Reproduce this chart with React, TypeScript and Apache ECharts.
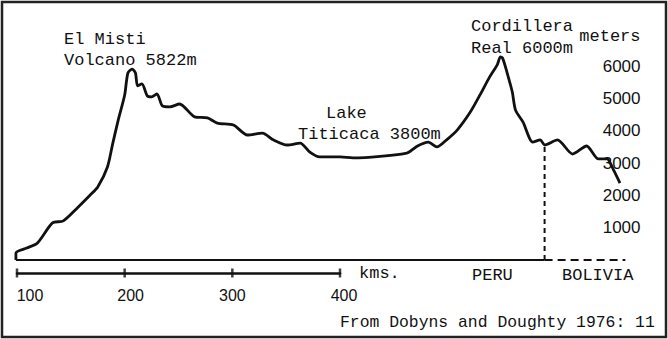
import React, { useEffect, useRef } from "react";
import * as echarts from "echarts";

// Profile across southern Peru / Bolivia (distance in km, elevation in meters)
const distanceKm = [99, 99, 109, 119, 133, 143, 156, 168, 175, 184, 189, 194, 200, 203, 207, 210, 212, 216, 221, 225, 230, 235, 242, 251, 265, 277, 286, 301, 314, 328, 338, 351, 363, 372, 381, 400, 412, 462, 472, 482, 490, 499, 509, 521, 530, 539, 546, 549, 551, 555, 560, 563, 570, 579, 586, 590, 602, 616, 629, 640, 648, 654, 660];
const elevationM = [0, 220, 370, 530, 1150, 1210, 1610, 2010, 2260, 2880, 3620, 4330, 5110, 5790, 5910, 5790, 5390, 5450, 5080, 5050, 5140, 4770, 4740, 4830, 4430, 4400, 4240, 4180, 3870, 3930, 3720, 3560, 3620, 3340, 3190, 3190, 3160, 3310, 3530, 3650, 3500, 3720, 4030, 4580, 5110, 5670, 6040, 6290, 6250, 5820, 5200, 4640, 4270, 3650, 3720, 3560, 3720, 3280, 3530, 3130, 3130, 2790, 2380];

const profileStartKm = 99;
const borderKm = 590;
const borderTopM = 3560;
const boliviaEndKm = 665;

const scaleTicksKm = [100, 200, 300, 400];
const elevationTicks = [1000, 2000, 3000, 4000, 5000, 6000];
const elevationUnit = "meters";

const annotations = [
  { text: "El Misti", x: 64, y: 39 },
  { text: "Volcano 5822m", x: 64, y: 60 },
  { text: "Cordillera", x: 471, y: 26 },
  { text: "Real 6000m", x: 471, y: 48 },
  { text: "Lake", x: 326, y: 113 },
  { text: "Titicaca 3800m", x: 298, y: 134 },
  { text: "PERU", x: 472, y: 275 },
  { text: "BOLIVIA", x: 562, y: 275 },
  { text: "kms.", x: 359, y: 273 },
];
const sourceNote = "From Dobyns and Doughty 1976: 11";

const MONO = '"Liberation Mono", "DejaVu Sans Mono", monospace';
const SANS = '"Liberation Sans", Arial, sans-serif';
const INK = "#111111";

export default function App() {
  const ref = useRef<HTMLDivElement>(null);

  useEffect(() => {
    if (!ref.current) return;
    const chart = echarts.init(ref.current, null, { renderer: "svg" });

    const profile = distanceKm.map((d, i) => [d, elevationM[i]]);
    const labelShift: Record<number, number> = { 100: 26, 200: 12, 300: 0, 400: 8 };

    chart.setOption({
      animation: false,
      backgroundColor: "#ffffff",
      grid: [
        { left: 6.23, right: 26.5, top: 33.9, bottom: 79, containLabel: false },
        { left: 17, right: 328, top: 268, height: 10, containLabel: false },
      ],
      xAxis: [
        {
          gridIndex: 0,
          type: "value",
          min: 90,
          max: 680,
          show: false,
        },
        {
          gridIndex: 1,
          type: "value",
          min: 100,
          max: 400,
          interval: 100,
          axisLine: { show: true, onZero: true, lineStyle: { color: INK, width: 2.5 } },
          axisTick: { show: false },
          splitLine: { show: false },
          axisLabel: {
            margin: 9,
            color: INK,
            formatter: (v: number) => `{s${v}|${v}}`,
            rich: Object.fromEntries(
              scaleTicksKm.map((t) => [
                `s${t}`,
                { fontFamily: SANS, fontSize: 16, color: INK, padding: [0, 0, 0, labelShift[t] || 0] },
              ])
            ),
          },
        },
      ],
      yAxis: [
        {
          gridIndex: 0,
          type: "value",
          position: "right",
          min: 0,
          max: 7000,
          interval: 1000,
          axisLine: { show: false },
          axisTick: { show: false },
          splitLine: { show: false },
          axisLabel: {
            inside: true,
            margin: 1,
            color: INK,
            fontFamily: SANS,
            fontSize: 17,
            formatter: (v: number) =>
              v === 7000 ? `{m|${elevationUnit}}` : elevationTicks.includes(v) ? String(v) : "",
            rich: {
              m: { fontFamily: MONO, fontSize: 17, color: INK, padding: [6, 0, 0, 0] },
            },
          },
        },
        {
          gridIndex: 1,
          type: "value",
          min: -1,
          max: 1,
          show: false,
        },
      ],
      series: [
        {
          type: "line",
          xAxisIndex: 0,
          yAxisIndex: 0,
          data: profile,
          smooth: 0.25,
          symbol: "none",
          lineStyle: { color: INK, width: 2.8 },
          silent: true,
        },
        {
          type: "line",
          xAxisIndex: 0,
          yAxisIndex: 0,
          data: [
            [profileStartKm, 0],
            [borderKm, 0],
          ],
          symbol: "none",
          lineStyle: { color: INK, width: 2.2 },
          silent: true,
        },
        {
          type: "line",
          xAxisIndex: 0,
          yAxisIndex: 0,
          data: [
            [borderKm, 0],
            [boliviaEndKm, 0],
          ],
          symbol: "none",
          lineStyle: { color: INK, width: 2.2, type: [8, 5] },
          silent: true,
        },
        {
          type: "line",
          xAxisIndex: 0,
          yAxisIndex: 0,
          data: [
            [borderKm, 0],
            [borderKm, borderTopM],
          ],
          symbol: "none",
          lineStyle: { color: INK, width: 2, type: [5, 4] },
          silent: true,
        },
        {
          type: "scatter",
          xAxisIndex: 1,
          yAxisIndex: 1,
          data: scaleTicksKm.map((t) => [t, 0]),
          symbol: "rect",
          symbolSize: [2.5, 9],
          itemStyle: { color: INK },
          silent: true,
        },
      ],
      graphic: [
        {
          type: "rect",
          shape: { x: 2, y: 2, width: 664, height: 335 },
          style: { fill: "none", stroke: "#222", lineWidth: 2.5 },
          silent: true,
        },
        ...annotations.map((a) => ({
          type: "text",
          x: a.x,
          y: a.y,
          style: {
            text: a.text,
            font: `17px ${MONO}`,
            fill: INK,
            align: "left",
            verticalAlign: "middle",
          },
          silent: true,
        })),
        {
          type: "text",
          x: 340,
          y: 322,
          style: {
            text: sourceNote,
            font: `16.4px ${MONO}`,
            fill: INK,
            align: "left",
            verticalAlign: "middle",
          },
          silent: true,
        },
      ],
    });

    return () => chart.dispose();
  }, []);

  return (
    <div
      ref={ref}
      style={{ position: "absolute", left: 0, top: 0, width: 668, height: 339, background: "#fff" }}
    />
  );
}
